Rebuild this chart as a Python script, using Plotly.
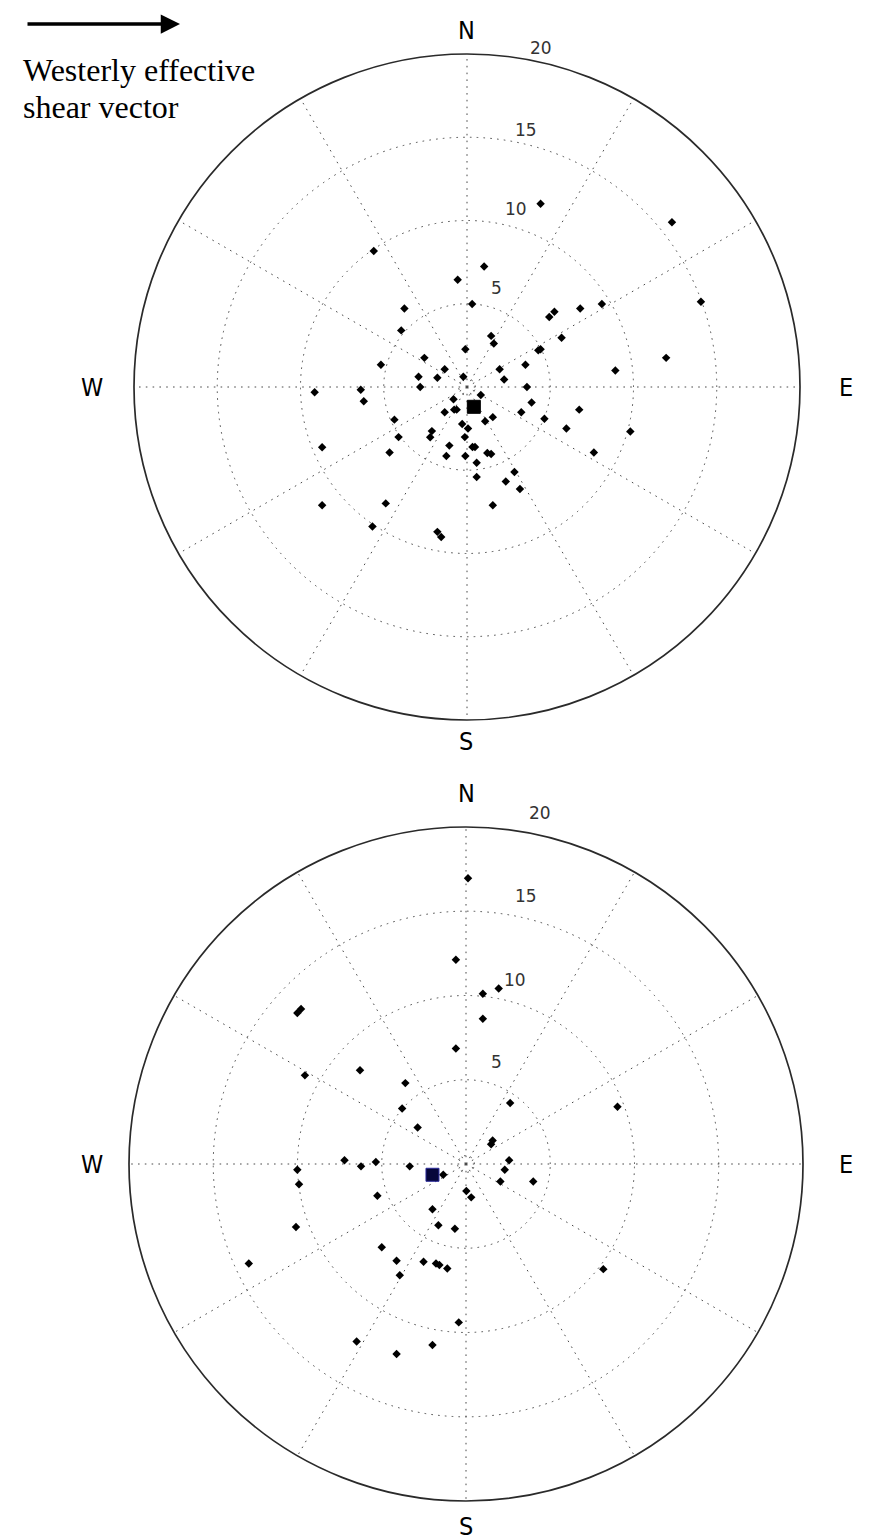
import numpy as np
import plotly.graph_objects as go

FIG_W, FIG_H = 881, 1540

# ---------------- data (shear vector components, east / north, in the chart's radial units) ----------------
top_east = [4.42, -5.60, 1.03, -0.56, 0.31, -3.76, -3.95, 1.45, 1.61, -0.10,
            -2.56, -5.17, -1.34, -1.78, -2.91, -0.22, 1.96, 2.23, 3.51, 4.42,
            4.28, 5.68, 4.94, 5.25, 6.80, 8.10, -9.15, -6.38, -6.20, -2.81,
            3.60, 0.83, -0.81, -0.77, -0.62, -1.34, 3.88, 6.74, 3.26, 1.55,
            1.09, 4.65, -4.36, -0.29, 0.06, 5.97, -2.11, -2.21, -4.11, -0.13,
            -8.70, -4.65, -1.06, 0.33, 0.48, -1.24, -0.10, 1.22, 1.45, 0.58,
            7.62, 0.58, 2.33, 2.85, 3.18, -8.70, -4.88, 1.55, -5.68, -1.78,
            -1.55, 12.31, 14.05, 11.96, 8.91, 9.81]
top_north = [11.01, 8.17, 7.24, 6.44, 4.98, 4.71, 3.40, 3.07, 2.61, 2.27,
             1.75, 1.34, 1.07, 0.56, 0.62, 0.62, 1.07, 0.45, 1.34, 2.27,
             2.20, 2.96, 4.20, 4.52, 4.71, 4.98, -0.31, -0.17, -0.85, 0.00,
             0.00, -0.48, -0.74, -1.36, -1.36, -1.52, -0.93, -1.36, -1.52, -1.81,
             -2.06, -1.91, -1.96, -2.22, -2.49, -2.49, -2.65, -3.02, -3.01, -3.01,
             -3.62, -3.93, -3.52, -3.60, -3.60, -4.14, -4.14, -3.97, -4.03, -4.55,
             -3.93, -5.41, -5.68, -5.10, -6.13, -7.10, -6.99, -7.10, -8.38, -8.70,
             -9.01, 9.90, 5.12, 1.75, 0.99, -2.67]
top_mean_east = [0.41]
top_mean_north = [-1.19]

bottom_east = [0.12, -0.60, 1.94, 1.00, 1.00, -0.60, -10.01, -9.79, -6.29, -9.56,
               -3.60, -3.79, -2.87, 2.62, 1.58, 1.49, -7.21, -6.23, -5.35, -3.34,
               -1.35, -10.01, -9.91, 2.56, 2.30, 2.04, 3.99, -5.26, 0.02, 0.31,
               -1.99, -10.09, -1.64, -0.66, -5.00, -12.89, -4.12, -2.52, -1.78, -1.58,
               -1.11, -3.93, -0.43, -6.49, -1.99, -4.12, 8.99, 8.15]
bottom_north = [16.96, 12.12, 10.42, 10.10, 8.62, 6.86, 8.96, 9.20, 5.56, 5.26,
                4.80, 3.30, 2.16, 3.62, 1.40, 1.17, 0.22, -0.14, 0.12, -0.14,
                -0.64, -0.34, -1.20, 0.22, -0.34, -1.04, -1.04, -1.88, -1.60, -1.98,
                -2.68, -3.74, -3.64, -3.84, -4.94, -5.90, -5.74, -5.80, -5.90, -6.00,
                -6.20, -6.60, -9.40, -10.54, -10.74, -11.28, 3.40, -6.24]
bottom_mean_east = [-1.99]
bottom_mean_north = [-0.64]

compass_vals = [0, 90, 180, 270]
compass_text = ["N", "E", "S", "W"]
ring_vals = [5, 10, 15, 20]
spoke_vals = list(range(0, 360, 30))


def to_polar(east, north):
    e = np.asarray(east, dtype=float)
    n = np.asarray(north, dtype=float)
    r = np.hypot(e, n)
    theta = np.degrees(np.arctan2(e, n)) % 360.0
    return r, theta


fig = go.Figure()

for sp, (e, n, me, mn, mcol, mline) in {
    "polar": (top_east, top_north, top_mean_east, top_mean_north, "black", "black"),
    "polar2": (bottom_east, bottom_north, bottom_mean_east, bottom_mean_north, "#06063a", "#2a2a9a"),
}.items():
    r, th = to_polar(e, n)
    fig.add_trace(go.Scatterpolar(
        r=r, theta=th, mode="markers", subplot=sp,
        marker=dict(symbol="diamond", size=6.5, color="black"),
        hoverinfo="skip"))
    mr, mth = to_polar(me, mn)
    fig.add_trace(go.Scatterpolar(
        r=mr, theta=mth, mode="markers", subplot=sp,
        marker=dict(symbol="square", size=13, color=mcol, line=dict(color=mline, width=1)),
        hoverinfo="skip"))


def px_domain(cx, cy, R):
    return dict(x=[(cx - R) / FIG_W, (cx + R) / FIG_W],
                y=[1 - (cy + R) / FIG_H, 1 - (cy - R) / FIG_H])


GRID = "#4a4a4a"
DASH = "1.6px,5.2px"


def polar_style(domain):
    return dict(
        domain=domain,
        bgcolor="white",
        angularaxis=dict(direction="clockwise", rotation=90,
                         tickmode="array", tickvals=spoke_vals,
                         showticklabels=False, ticks="",
                         showgrid=True, gridcolor=GRID, gridwidth=1.3, griddash=DASH,
                         showline=True, linecolor="#2a2a2a", linewidth=1.7),
        radialaxis=dict(range=[0, 20], tickmode="array", tickvals=[0.5] + ring_vals[:-1],
                        showticklabels=False, ticks="", showline=False,
                        showgrid=True, gridcolor=GRID, gridwidth=1.3, griddash=DASH),
    )


fig.update_layout(
    width=FIG_W, height=FIG_H,
    margin=dict(l=0, r=0, t=0, b=0),
    paper_bgcolor="white",
    showlegend=False,
    polar=polar_style(px_domain(459, 379, 333)),
    polar2=polar_style(px_domain(458, 1156, 337)),
)

ann = []


def add_text(x, y, text, size, family, color="black", xanchor="center", yanchor="middle"):
    ann.append(dict(x=x / FIG_W, y=1 - y / FIG_H, xref="paper", yref="paper",
                    text=text, showarrow=False, xanchor=xanchor, yanchor=yanchor,
                    font=dict(size=size, family=family, color=color)))


COMPASS_FONT = "Liberation Sans Narrow, Arial Narrow, DejaVu Sans Condensed, Liberation Sans, sans-serif"
RING_FONT = "DejaVu Sans, Verdana, sans-serif"

# compass letters: (label, top-chart position, bottom-chart position)
compass_pos_top = [(458, 23), (838, 379), (458, 733), (84, 379)]
compass_pos_bot = [(458, 785), (838, 1156), (458, 1518), (84, 1156)]
for t, p1, p2 in zip(compass_text, compass_pos_top, compass_pos_bot):
    add_text(p1[0], p1[1], t, 25, COMPASS_FONT)
    add_text(p2[0], p2[1], t, 25, COMPASS_FONT)

ring_pos_top = [(488, 280), (508, 201), (518, 122), (533, 40)]
ring_pos_bot = [(488, 1054), (507, 972), (518, 888), (532, 805)]
for v, p1, p2 in zip(ring_vals, ring_pos_top, ring_pos_bot):
    add_text(p1[0], p1[1], str(v), 17, RING_FONT, color="#333333")
    add_text(p2[0], p2[1], str(v), 17, RING_FONT, color="#333333")

# westerly shear vector arrow + caption
ann.append(dict(x=172 / FIG_W, y=1 - 16 / FIG_H, xref="paper", yref="paper",
                ax=-154, ay=0, axref="pixel", ayref="pixel",
                text="", showarrow=True, arrowhead=2, arrowsize=1.1,
                arrowwidth=3.5, arrowcolor="black"))
add_text(13, 62, "Westerly effective", 32, "Liberation Serif, Times New Roman, serif",
         xanchor="left")
add_text(13, 99, "shear vector", 32, "Liberation Serif, Times New Roman, serif",
         xanchor="left")

fig.update_layout(annotations=ann)

fig.write_html("out.html")
